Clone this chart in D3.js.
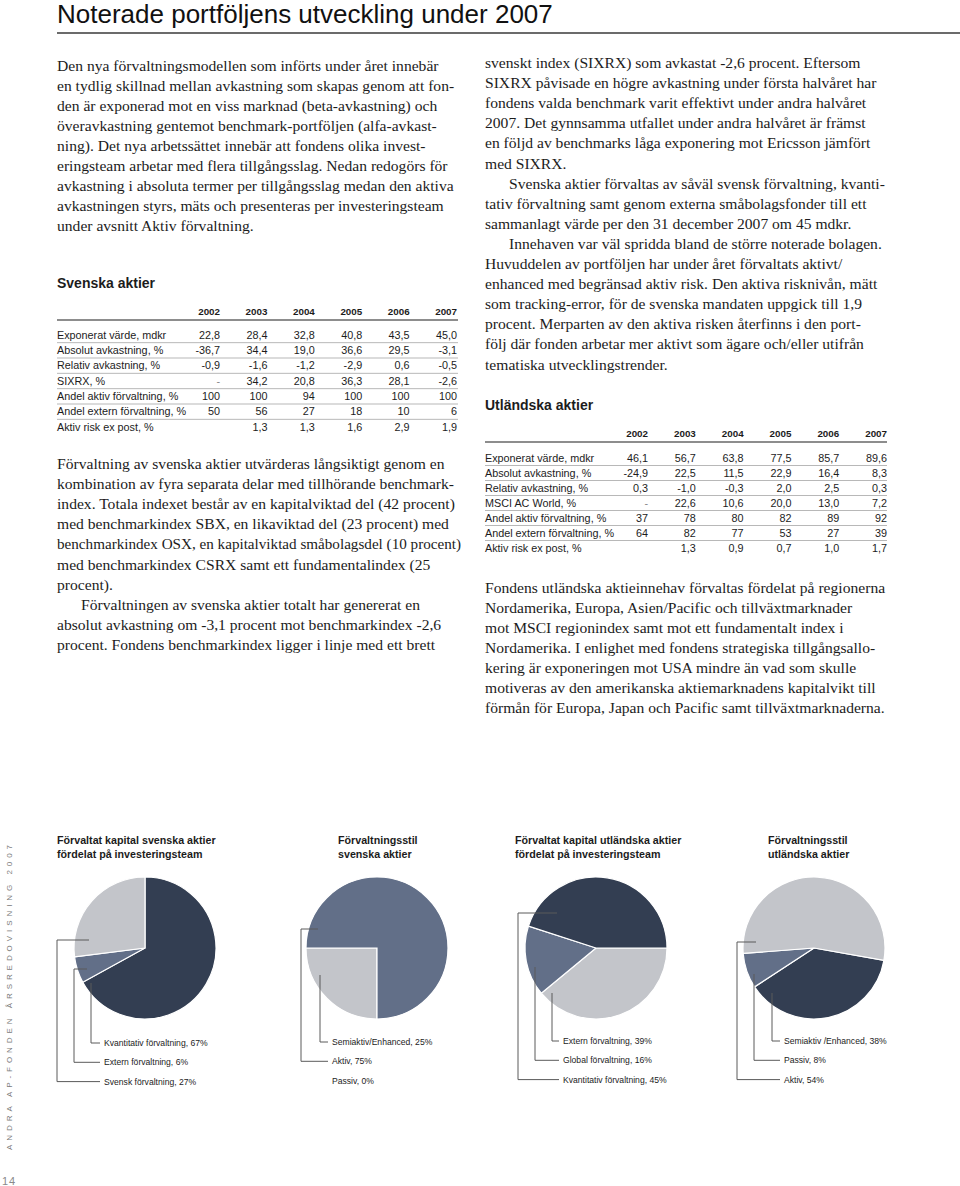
<!DOCTYPE html>
<html>
<head>
<meta charset="utf-8">
<script src="https://cdn.jsdelivr.net/npm/d3@7"></script>
<style>
  body { margin: 0; background: #fff; }
  svg { display: block; }
</style>
</head>
<body>
<div id="page"></div>
<script>
// ---- data ----
var pageTitle = "Noterade portföljens utveckling under 2007";
var years = ["2002", "2003", "2004", "2005", "2006", "2007"];

var seTitle = "Svenska aktier";
var seRows = ["Exponerat värde, mdkr", "Absolut avkastning, %", "Relativ avkastning, %", "SIXRX, %",
              "Andel aktiv förvaltning, %", "Andel extern förvaltning, %", "Aktiv risk ex post, %"];
var seValues = [
  [22.8, 28.4, 32.8, 40.8, 43.5, 45.0],
  [-36.7, 34.4, 19.0, 36.6, 29.5, -3.1],
  [-0.9, -1.6, -1.2, -2.9, 0.6, -0.5],
  ["-", 34.2, 20.8, 36.3, 28.1, -2.6],
  [100, 100, 94, 100, 100, 100],
  [50, 56, 27, 18, 10, 6],
  [null, 1.3, 1.3, 1.6, 2.9, 1.9]
];
var seDecimals = [1, 1, 1, 1, 0, 0, 1];

var utTitle = "Utländska aktier";
var utRows = ["Exponerat värde, mdkr", "Absolut avkastning, %", "Relativ avkastning, %", "MSCI AC World, %",
              "Andel aktiv förvaltning, %", "Andel extern förvaltning, %", "Aktiv risk ex post, %"];
var utValues = [
  [46.1, 56.7, 63.8, 77.5, 85.7, 89.6],
  [-24.9, 22.5, 11.5, 22.9, 16.4, 8.3],
  [0.3, -1.0, -0.3, 2.0, 2.5, 0.3],
  ["-", 22.6, 10.6, 20.0, 13.0, 7.2],
  [37, 78, 80, 82, 89, 92],
  [64, 82, 77, 53, 27, 39],
  [null, 1.3, 0.9, 0.7, 1.0, 1.7]
];
var utDecimals = [1, 1, 1, 1, 0, 0, 1];

var pie1Title = ["Förvaltat kapital svenska aktier", "fördelat på investeringsteam"];
var pie1Labels = ["Kvantitativ förvaltning", "Extern förvaltning", "Svensk förvaltning"];
var pie1Values = [67, 6, 27];
var pie1Shades = ["dark", "mid", "light"];

var pie2Title = ["Förvaltningsstil", "svenska aktier"];
var pie2Labels = ["Semiaktiv/Enhanced", "Aktiv", "Passiv"];
var pie2Values = [25, 75, 0];
var pie2Shades = ["light", "mid", "dark"];

var pie3Title = ["Förvaltat kapital utländska aktier", "fördelat på investeringsteam"];
var pie3Labels = ["Extern förvaltning", "Global förvaltning", "Kvantitativ förvaltning"];
var pie3Values = [39, 16, 45];
var pie3Shades = ["light", "mid", "dark"];

var pie4Title = ["Förvaltningsstil", "utländska aktier"];
var pie4Labels = ["Semiaktiv /Enhanced", "Passiv", "Aktiv"];
var pie4Values = [38, 8, 54];
var pie4Shades = ["dark", "mid", "light"];

var sideText = "ANDRA AP-FONDEN ÅRSREDOVISNING 2007";
var pageNumber = "14";

// body text, one array per paragraph, lines as in print
var textLeftTop = [[
  "Den nya förvaltningsmodellen som införts under året innebär",
  "en tydlig skillnad mellan avkastning som skapas genom att fon-",
  "den är exponerad mot en viss marknad (beta-avkastning) och",
  "överavkastning gentemot benchmark-portföljen (alfa-avkast-",
  "ning). Det nya arbetssättet innebär att fondens olika invest-",
  "eringsteam arbetar med flera tillgångsslag. Nedan redogörs för",
  "avkastning i absoluta termer per tillgångsslag medan den aktiva",
  "avkastningen styrs, mäts och presenteras per investeringsteam",
  "under avsnitt Aktiv förvaltning."
]];
var textLeftBottom = [[
  "Förvaltning av svenska aktier utvärderas långsiktigt genom en",
  "kombination av fyra separata delar med tillhörande benchmark-",
  "index. Totala indexet består av en kapitalviktad del (42 procent)",
  "med benchmarkindex SBX, en likaviktad del (23 procent) med",
  "benchmarkindex OSX, en kapitalviktad småbolagsdel (10 procent)",
  "med benchmarkindex CSRX samt ett fundamentalindex (25",
  "procent)."
], [
  "Förvaltningen av svenska aktier totalt har genererat en",
  "absolut avkastning om -3,1 procent mot benchmarkindex -2,6",
  "procent. Fondens benchmarkindex ligger i linje med ett brett"
]];
var textRightTop = [[
  "svenskt index (SIXRX) som avkastat -2,6 procent. Eftersom",
  "SIXRX påvisade en högre avkastning under första halvåret har",
  "fondens valda benchmark varit effektivt under andra halvåret",
  "2007. Det gynnsamma utfallet under andra halvåret är främst",
  "en följd av benchmarks låga exponering mot Ericsson jämfört",
  "med SIXRX."
], [
  "Svenska aktier förvaltas av såväl svensk förvaltning, kvanti-",
  "tativ förvaltning samt genom externa småbolagsfonder till ett",
  "sammanlagt värde per den 31 december 2007 om 45 mdkr."
], [
  "Innehaven var väl spridda bland de större noterade bolagen.",
  "Huvuddelen av portföljen har under året förvaltats aktivt/",
  "enhanced med begränsad aktiv risk. Den aktiva risknivån, mätt",
  "som tracking-error, för de svenska mandaten uppgick till 1,9",
  "procent. Merparten av den aktiva risken återfinns i den port-",
  "följ där fonden arbetar mer aktivt som ägare och/eller utifrån",
  "tematiska utvecklingstrender."
]];
var textRightBottom = [[
  "Fondens utländska aktieinnehav förvaltas fördelat på regionerna",
  "Nordamerika, Europa, Asien/Pacific och tillväxtmarknader",
  "mot MSCI regionindex samt mot ett fundamentalt index i",
  "Nordamerika. I enlighet med fondens strategiska tillgångsallo-",
  "kering är exponeringen mot USA mindre än vad som skulle",
  "motiveras av den amerikanska aktiemarknadens kapitalvikt till",
  "förmån för Europa, Japan och Pacific samt tillväxtmarknaderna."
]];

// ---- setup ----
var W = 960, H = 1186;
var sans = "'Liberation Sans', Arial, Helvetica, sans-serif";
var serif = "'Liberation Serif', 'Times New Roman', serif";
var ink = "#1c1c1c";

var sv = d3.formatLocale({decimal: ",", thousands: " ", grouping: [3], currency: ["", " kr"], minus: "-"});

var shade = d3.scaleOrdinal()
  .domain(["dark", "mid", "light"])
  .range(["#333e52", "#626f88", "#c3c5ca"]);

var svg = d3.select("#page").append("svg")
  .attr("width", W).attr("height", H);

// title
svg.append("text")
  .attr("x", 57).attr("y", 23)
  .attr("font-family", sans).attr("font-size", 26)
  .attr("fill", "#111")
  .text(pageTitle);
svg.append("line")
  .attr("x1", 57).attr("x2", W).attr("y1", 33).attr("y2", 33)
  .attr("stroke", "#3a3a3a").attr("stroke-width", 1.5);

// ---- body text ----
var colWidth = 404;
function drawText(paras, x, y0, step) {
  var g = svg.append("g")
    .attr("font-family", serif).attr("font-size", 15.6).attr("fill", ink);
  var n = 0;
  paras.forEach(function(lines, p) {
    lines.forEach(function(line, i) {
      var t = g.append("text")
        .attr("x", x + (p > 0 && i == 0 ? 24 : 0))
        .attr("y", y0 + n * step)
        .text(line);
      // keep long lines inside the column
      if (t.node().getComputedTextLength() > colWidth) {
        t.attr("textLength", colWidth).attr("lengthAdjust", "spacingAndGlyphs");
      }
      n++;
    });
  });
}
drawText(textLeftTop, 57, 71, 20);
drawText(textLeftBottom, 57, 469, 20.1);
drawText(textRightTop, 485, 68, 20.1);
drawText(textRightBottom, 485, 593, 20);

// ---- tables ----
function drawTable(opt) {
  var g = svg.append("g").attr("font-family", sans).attr("fill", ink);

  g.append("text")
    .attr("x", opt.x0).attr("y", opt.titleY)
    .attr("font-size", 14).attr("font-weight", "bold")
    .text(opt.title);

  var x = d3.scalePoint().domain(years).range(opt.colRange);
  var y = d3.scalePoint().domain(opt.rows).range(opt.rowRange);
  var step = y.step();

  g.selectAll("text.yr")
    .data(years)
    .join("text")
    .attr("class", "yr")
    .attr("x", d => x(d)).attr("y", opt.headY + 4)
    .attr("text-anchor", "end")
    .attr("font-size", 9.8).attr("font-weight", "bold")
    .text(d => d);

  g.append("line")
    .attr("x1", opt.x0).attr("x2", opt.x1)
    .attr("y1", opt.ruleY).attr("y2", opt.ruleY)
    .attr("stroke", "#8d8d8d").attr("stroke-width", 2);

  g.selectAll("line.sep")
    .data(opt.rows.slice(0, -1))
    .join("line")
    .attr("class", "sep")
    .attr("x1", opt.x0).attr("x2", opt.x1)
    .attr("y1", d => y(d) + step / 2).attr("y2", d => y(d) + step / 2)
    .attr("stroke", "#9a9a9a").attr("stroke-width", 0.7);

  var row = g.selectAll("g.row")
    .data(opt.rows)
    .join("g")
    .attr("class", "row")
    .attr("transform", d => "translate(0," + (y(d) + 3.8) + ")");

  row.append("text")
    .attr("x", opt.x0)
    .attr("font-size", 10.8)
    .text(d => d);

  row.each(function(label, r) {
    var fmt = sv.format("." + opt.decimals[r] + "f");
    d3.select(this).selectAll("text.v")
      .data(opt.values[r].map((v, i) => ({year: years[i], v: v})))
      .join("text")
      .attr("class", "v")
      .attr("x", d => x(d.year))
      .attr("text-anchor", "end")
      .attr("font-size", 10.8)
      .attr("fill", d => d.v === "-" ? "#888" : ink)
      .text(d => d.v === null ? "" : d.v === "-" ? "-" : fmt(d.v));
  });
}

drawTable({
  title: seTitle, rows: seRows, values: seValues, decimals: seDecimals,
  x0: 57, x1: 458, titleY: 288, headY: 311, ruleY: 320,
  colRange: [220, 457], rowRange: [335, 427]
});
drawTable({
  title: utTitle, rows: utRows, values: utValues, decimals: utDecimals,
  x0: 485, x1: 887, titleY: 410, headY: 433, ruleY: 442,
  colRange: [648, 887], rowRange: [458, 548]
});

// ---- pies ----
var pieR = 71, pieCy = 948;
var pies = [
  {title: pie1Title, labels: pie1Labels, values: pie1Values, shades: pie1Shades,
   cx: 145, titleX: 57, start: 0, labelX: -41, labelY: 1043,
   leaders: [{vx: -54, top: 35}, {vx: -71, top: 21, hx: -58}, {vx: -88, top: -8, hx: -56}]},
  {title: pie2Title, labels: pie2Labels, values: pie2Values, shades: pie2Shades,
   cx: 377, titleX: 338, start: 180, labelX: -45, labelY: 1042,
   leaders: [{vx: -57, top: 27}, {vx: -76, top: -19, hx: -59}, null]},
  {title: pie3Title, labels: pie3Labels, values: pie3Values, shades: pie3Shades,
   cx: 596, titleX: 515, start: 90, labelX: -33, labelY: 1041,
   leaders: [{vx: -44, top: 45}, {vx: -61, top: 19}, {vx: -78, top: -35, hx: -39}]},
  {title: pie4Title, labels: pie4Labels, values: pie4Values, shades: pie4Shades,
   cx: 814, titleX: 768, start: 100, labelX: -30, labelY: 1041,
   leaders: [{vx: -42, top: 45}, {vx: -60, top: 26}, {vx: -77, top: -6, hx: -58}]}
];

var arc = d3.arc().innerRadius(0).outerRadius(pieR);

pies.forEach(function(p) {
  var g = svg.append("g").attr("font-family", sans).attr("fill", ink);

  g.selectAll("text.t")
    .data(p.title)
    .join("text")
    .attr("class", "t")
    .attr("x", p.titleX)
    .attr("y", (d, i) => 844 + i * 13.5)
    .attr("font-size", 10.7).attr("font-weight", "bold")
    .text(d => d);

  var data = p.values.map((v, i) => ({label: p.labels[i], value: v, shade: p.shades[i]}));
  var a0 = p.start * Math.PI / 180;
  var arcs = d3.pie().sort(null).value(d => d.value)
    .startAngle(a0).endAngle(a0 + 2 * Math.PI)(data);

  var pg = g.append("g").attr("transform", "translate(" + p.cx + "," + pieCy + ")");
  pg.selectAll("path")
    .data(arcs.filter(d => d.value > 0))
    .join("path")
    .attr("d", arc)
    .attr("fill", d => shade(d.data.shade))
    .attr("stroke", "#fff").attr("stroke-width", 1.2);

  var step = 19.3;
  data.forEach(function(d, i) {
    var ly = p.labelY - pieCy + i * step;
    var ld = p.leaders[i];
    if (ld) {
      var pts = [];
      if (ld.hx !== undefined) pts.push([ld.hx, ld.top]);
      pts.push([ld.vx, ld.top], [ld.vx, ly], [p.labelX - 4, ly]);
      pg.append("path")
        .attr("d", d3.line()(pts))
        .attr("fill", "none")
        .attr("stroke", "#5a5a5a").attr("stroke-width", 1);
    }
    pg.append("text")
      .attr("x", p.labelX).attr("y", ly + 3)
      .attr("font-size", 8.6)
      .text(d.label + ", " + d.value + "%");
  });
});

// ---- side text and page number ----
svg.append("text")
  .attr("transform", "translate(12,1150) rotate(-90)")
  .attr("font-family", sans).attr("font-size", 8)
  .attr("fill", "#7a7a7a")
  .attr("textLength", 305).attr("lengthAdjust", "spacing")
  .text(sideText);

svg.append("text")
  .attr("x", 2).attr("y", 1185)
  .attr("font-family", sans).attr("font-size", 11)
  .attr("fill", "#8a8a8a")
  .attr("letter-spacing", 1)
  .text(pageNumber);
</script>
</body>
</html>
